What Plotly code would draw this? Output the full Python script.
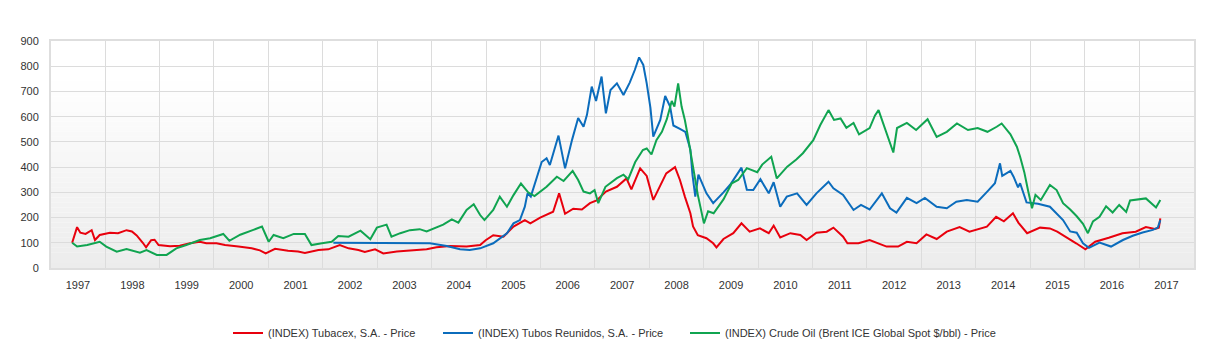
import plotly.graph_objects as go

# ---------------- data ----------------
tubacex_dates = ["1997-01-01","1997-02-03","1997-02-25","1997-04-01","1997-05-12","1997-06-03","1997-07-05","1997-09-12","1997-11-05",
"1998-01-01","1998-02-06","1998-03-10","1998-04-20","1998-05-12","1998-06-15","1998-07-08","1998-08-04","1998-10-20","1998-12-24",
"1999-03-03","1999-05-08","1999-06-20","1999-08-28","1999-10-24","2000-01-22","2000-04-20","2000-06-14","2000-07-23","2000-09-24","2000-12-20",
"2001-02-25","2001-04-12","2001-07-12","2001-09-16","2001-12-02","2002-01-30","2002-04-06","2002-05-19","2002-07-27","2002-09-20","2002-12-20",
"2003-04-08","2003-07-08","2003-09-12","2003-12-13","2004-04-01","2004-07-01","2004-08-07","2004-09-27","2004-12-05",
"2005-02-10","2005-04-27","2005-06-03","2005-08-08","2005-10-12","2005-11-03","2005-12-13","2006-01-22","2006-03-18","2006-05-15",
"2006-07-08","2006-08-22","2006-10-23","2007-01-05","2007-03-10","2007-04-12","2007-06-10","2007-07-24","2007-09-06","2007-10-23","2007-12-02",
"2008-01-30","2008-03-03","2008-04-05","2008-05-12","2008-05-30","2008-07-01","2008-08-28","2008-10-12","2008-11-03","2008-12-20",
"2009-02-24","2009-04-20","2009-06-14","2009-08-22","2009-10-20","2009-11-22","2010-01-05","2010-03-14","2010-05-20","2010-07-01",
"2010-09-05","2010-11-13","2010-12-28","2011-03-03","2011-04-01","2011-06-14","2011-08-28","2011-12-20","2012-03-06","2012-05-04",
"2012-07-08","2012-09-12","2012-11-20","2013-01-27","2013-04-23","2013-06-28","2013-10-23","2013-12-24","2014-02-14","2014-04-16",
"2014-05-22","2014-07-20","2014-10-15","2014-12-20","2015-02-07","2015-04-06","2015-06-14","2015-08-15","2015-10-20","2016-01-19",
"2016-04-20","2016-07-18","2016-09-24","2016-11-24","2016-12-20","2016-12-30"]
tubacex_values = [100,162,140,135,150,111,131,140,138,
150,145,129,100,82,110,112,91,86,88,
98,104,98,98,91,85,78,70,58,76,68,
65,60,71,74,91,78,71,64,74,58,65,
71,74,82,87,85,91,110,130,124,
164,190,177,200,215,223,296,215,235,232,
257,268,303,322,355,312,395,365,270,330,375,
400,349,283,217,165,130,118,98,82,115,
138,177,144,157,138,168,121,138,131,111,
140,144,160,124,98,98,111,85,85,104,
98,133,115,144,162,144,164,203,185,217,
180,138,160,157,144,124,98,74,104,120,
138,144,162,155,160,197]

tubos_dates = ["2001-10-20","2002-07-01","2003-01-01","2003-07-30","2003-11-20","2004-02-17","2004-04-22","2004-07-01","2004-09-27","2004-12-28",
"2005-02-10","2005-03-25","2005-04-27","2005-05-15","2005-06-06","2005-07-16","2005-08-18","2005-09-20","2005-10-12","2005-12-09",
"2006-01-22","2006-03-10","2006-04-20","2006-05-26","2006-06-18","2006-07-20","2006-08-18","2006-09-24","2006-10-23","2006-11-23",
"2007-01-05","2007-02-18","2007-04-01","2007-05-05","2007-06-03","2007-07-01","2007-07-24","2007-08-18","2007-09-06","2007-10-23",
"2007-11-25","2007-12-28","2008-01-19","2008-03-03","2008-04-08","2008-05-12","2008-05-26","2008-06-14","2008-07-05","2008-08-28",
"2008-10-12","2008-12-20","2009-02-03","2009-04-20","2009-05-26","2009-07-08","2009-08-25","2009-10-20","2009-11-22","2010-01-05",
"2010-02-18","2010-04-28","2010-07-01","2010-09-05","2010-11-25","2010-12-28","2011-03-03","2011-05-12","2011-07-01","2011-08-28",
"2011-11-18","2012-01-12","2012-02-24","2012-05-04","2012-07-08","2012-09-02","2012-11-20","2013-01-27","2013-04-01","2013-06-10",
"2013-08-22","2013-10-30","2013-12-16","2014-01-19","2014-02-03","2014-03-30","2014-04-20","2014-05-20","2014-06-03","2014-07-16",
"2014-10-01","2014-12-20","2015-02-03","2015-03-18","2015-05-05","2015-06-18","2015-07-30","2015-09-08","2015-11-18","2016-02-03",
"2016-04-23","2016-06-28","2016-09-02","2016-11-10","2016-12-13","2016-12-30"]
tubos_values = [100,100,100,98,87,74,71,78,98,138,
177,190,243,296,283,360,420,435,408,525,
395,508,595,560,607,719,662,759,613,706,
732,686,735,785,835,805,732,635,521,587,
682,640,565,552,540,470,370,283,370,296,
257,300,330,398,310,309,352,296,340,243,
283,296,250,296,342,316,290,230,250,232,
296,237,220,278,257,278,243,237,263,270,
263,306,336,415,365,385,362,320,336,260,
255,243,217,190,145,140,98,80,101,85,
111,128,141,151,160,190]

brent_dates = ["1997-01-01","1997-02-03","1997-04-12","1997-07-05","1997-08-18","1997-10-27","1998-01-01","1998-04-01","1998-05-15","1998-07-23",
"1998-09-27","1998-12-01","1999-02-06","1999-05-08","1999-07-16","1999-10-12","1999-11-22","2000-02-03","2000-05-01","2000-06-28",
"2000-08-12","2000-09-14","2000-11-18","2001-01-27","2001-04-12","2001-05-26","2001-08-04","2001-10-09","2001-11-22","2002-01-30",
"2002-04-20","2002-06-25","2002-08-08","2002-10-12","2002-11-14","2003-01-12","2003-03-18","2003-05-22","2003-07-08","2003-09-12",
"2003-10-27","2003-12-24","2004-02-06","2004-04-01","2004-05-19","2004-07-01","2004-07-30","2004-09-27","2004-11-10","2004-12-28",
"2005-02-10","2005-04-01","2005-05-19","2005-07-01","2005-09-20","2005-11-28","2006-01-12","2006-03-14","2006-04-20","2006-05-26",
"2006-07-08","2006-08-08","2006-09-02","2006-10-20","2006-11-23","2007-01-05","2007-02-18","2007-03-22","2007-05-08","2007-06-28",
"2007-07-24","2007-08-25","2007-09-27","2007-11-03","2007-12-06","2008-01-08","2008-01-26","2008-02-20","2008-03-14","2008-04-05",
"2008-04-23","2008-05-30","2008-07-01","2008-08-11","2008-09-08","2008-10-15","2008-12-20","2009-02-14","2009-03-29","2009-05-26",
"2009-08-04","2009-09-06","2009-11-06","2009-12-13","2010-02-21","2010-04-23","2010-06-06","2010-08-15","2010-10-01","2010-11-25",
"2011-01-01","2011-02-14","2011-03-25","2011-05-12","2011-06-18","2011-08-28","2011-10-03","2011-10-27","2011-12-06","2011-12-24",
"2012-02-03","2012-02-28","2012-05-04","2012-07-05","2012-09-20","2012-11-20","2013-01-27","2013-04-05","2013-06-18","2013-08-22",
"2013-10-27","2013-12-28","2014-01-30","2014-03-30","2014-05-12","2014-06-03","2014-07-01","2014-07-27","2014-08-22","2014-09-14",
"2014-10-20","2014-12-20","2015-02-03","2015-03-18","2015-05-05","2015-06-18","2015-07-30","2015-09-01","2015-10-05","2015-11-18",
"2016-01-01","2016-02-14","2016-03-29","2016-05-15","2016-06-10","2016-09-24","2016-12-01","2016-12-30"]
brent_values = [100,85,91,104,85,65,75,61,71,52,
52,78,91,111,118,135,108,132,151,164,
104,131,118,135,135,91,98,104,127,124,
148,114,160,172,124,138,150,154,145,161,
172,193,180,230,253,210,190,230,283,243,
289,335,300,285,322,362,345,385,349,303,
296,309,257,322,336,356,370,352,420,468,
474,450,507,540,590,662,640,732,640,587,
530,410,290,177,225,217,272,336,349,396,
380,410,441,355,402,430,455,507,567,626,
587,593,556,575,530,555,605,626,560,534,
458,555,575,547,590,520,540,573,547,555,
540,560,573,530,481,441,380,305,237,290,
270,329,309,257,232,205,175,138,185,203,
245,220,250,222,268,276,240,270]

year_labels = [str(y) for y in range(1997, 2018)]
y_ticks = list(range(0, 1000, 100))

series_names = ["(INDEX) Tubacex, S.A. - Price",
                "(INDEX) Tubos Reunidos, S.A. - Price",
                "(INDEX) Crude Oil (Brent ICE Global Spot $/bbl) - Price"]
series_colors = ["#e8000d", "#0b6cbc", "#10a450"]

# ---------------- figure ----------------
fig = go.Figure()
data = [(tubacex_dates, tubacex_values), (tubos_dates, tubos_values), (brent_dates, brent_values)]
legends = ["legend", "legend2", "legend3"]
for (d, v), name, col, lg in zip(data, series_names, series_colors, legends):
    fig.add_trace(go.Scatter(x=d, y=v, mode="lines", name=name,
                             line=dict(color=col, width=2), legend=lg))

# gradient background of plot area (bands)
shapes = []
N = 45
for i in range(N):
    f0 = i / N
    f = (i + 0.5) / N  # 0 at top, 1 at bottom
    g = 255 - int(round(19 * max(0.0, (f - 0.15) / 0.85)))
    col = f"rgb({g},{g},{g})"
    shapes.append(dict(type="rect", xref="paper", yref="paper", x0=0, x1=1,
                       y0=1 - (i + 1) / N, y1=1 - f0, fillcolor=col,
                       line=dict(width=0), layer="below"))

fig.update_layout(shapes=shapes)

tick_dates = [f"{y}-02-09" for y in range(1997, 2018)]
grid_dates = [f"{y}-08-10" for y in range(1997, 2017)]

font_main = dict(family="Liberation Sans, Arial, sans-serif", size=11, color="#333333")

fig.update_layout(
    width=1213, height=351,
    margin=dict(l=51, r=19, t=41, b=83, autoexpand=False),
    paper_bgcolor="white", plot_bgcolor="rgba(0,0,0,0)",
    font=font_main,
    xaxis=dict(type="date", range=["1996-08-12", "2017-08-13"],
               tickmode="array", tickvals=tick_dates, ticktext=year_labels,
               showgrid=False, zeroline=False, ticks="", ticklabelstandoff=6,
               minor=dict(tickmode="array", tickvals=grid_dates, showgrid=True,
                          gridcolor="#dcdcdc", gridwidth=1, ticks=""),
               showline=True, linecolor="#dedede", linewidth=2, mirror=True,
               tickfont=font_main),
    yaxis=dict(range=[0, 900], tickmode="array", tickvals=y_ticks,
               ticktext=[str(v) for v in y_ticks],
               showgrid=True, gridcolor="#dcdcdc", gridwidth=1, zeroline=False,
               ticks="", ticklabelstandoff=8,
               showline=True, linecolor="#dedede", linewidth=2, mirror=True,
               tickfont=font_main),
    showlegend=True,
)

leg_common = dict(orientation="h", yanchor="middle", y=-0.286, xanchor="left",
                  bgcolor="rgba(0,0,0,0)", borderwidth=0, font=font_main,
                  itemwidth=30)

def px_to_paper(px):
    return (px - 51) / 1143.0

fig.update_layout(
    legend=dict(leg_common, x=px_to_paper(228)),
    legend2=dict(leg_common, x=px_to_paper(438)),
    legend3=dict(leg_common, x=px_to_paper(685)),
)

fig.write_html("out.html")
